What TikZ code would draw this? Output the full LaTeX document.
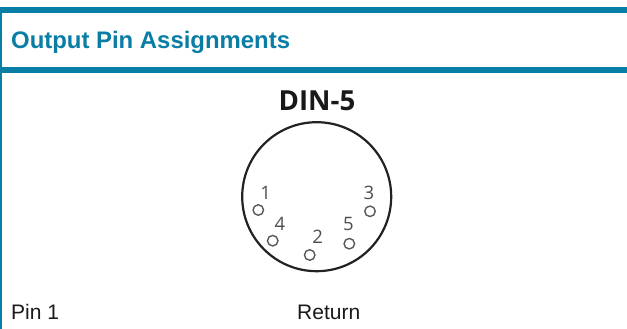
\documentclass[tikz,border=0pt]{standalone}
\usepackage{fontspec}
\setmainfont{Liberation Sans}
\newfontfamily\dinfont{Open Sans}
\definecolor{teal}{HTML}{0A7DA5}
\definecolor{ink}{HTML}{1A1A1A}
\definecolor{ring}{HTML}{222222}
\tikzset{
  bar/.style={fill=teal,draw=none},
  pinhole/.style={circle,draw=ring!75,line width=1.4pt,minimum size=10.5pt,inner sep=0pt,fill=white},
  pinlabel/.style={text=ring!80,font=\dinfont\fontsize{18.5}{18.5}\selectfont,inner sep=0pt},
  bodytext/.style={text=ink,font=\fontsize{21}{24}\selectfont,anchor=base west,inner sep=0pt},
}
\begin{document}
\begin{tikzpicture}[x=1pt,y=-1pt]
\useasboundingbox (0,0) rectangle (627,329);
\fill[white] (0,0) rectangle (627,329);
\fill[bar] (0,7) rectangle (627,13);
\fill[bar] (0,67) rectangle (627,73);
\fill[bar] (0,13) rectangle (1.5,67);
\fill[bar] (0,73) rectangle (1.5,329);
\node[text=teal,font=\bfseries\fontsize{23.9}{26}\selectfont,anchor=base west,inner sep=0pt] (title) at (11,49) {Output Pin Assignments};
\node[font=\dinfont\bfseries\fontsize{27.6}{28}\selectfont,text=black!90,inner sep=0pt,anchor=base] (din) at (317,110.5) {DIN-5};
\node[circle,draw=ring,line width=2.2pt,minimum size=149pt,inner sep=0pt] (shell) at (316.7,196.7) {};
\node[pinhole] (p1) at (258.3,210) {};
\node[pinhole] (p4) at (272.7,240.7) {};
\node[pinhole] (p2) at (309.7,255) {};
\node[pinhole] (p5) at (349.3,243.7) {};
\node[pinhole] (p3) at (370,211.3) {};
\node[pinlabel] (l1) at (265.7,193.3) {1};
\node[pinlabel] (l4) at (280,224) {4};
\node[pinlabel] (l2) at (317.7,237.3) {2};
\node[pinlabel] (l5) at (348.3,224.3) {5};
\node[pinlabel] (l3) at (369,193.3) {3};
\node[bodytext] (pin) at (11,319.3) {Pin 1};
\node[bodytext] (ret) at (297,319.3) {Return};
\end{tikzpicture}
\end{document}
